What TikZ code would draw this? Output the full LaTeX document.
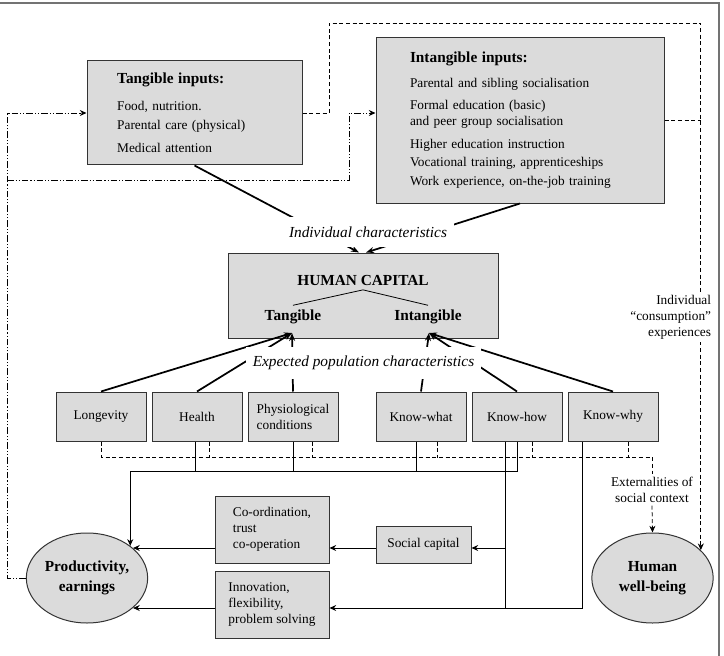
\documentclass[tikz,border=0pt]{standalone}
\usepackage{fontspec}
\setmainfont{Liberation Serif}
\usetikzlibrary{arrows.meta,positioning,shapes.geometric}

\definecolor{boxgray}{gray}{0.86}
\definecolor{framegray}{gray}{0.45}

\tikzset{
  inbox/.style={draw=black!80, fill=boxgray, line width=0.75pt, align=left,
    font=\fontsize{10}{12}\selectfont},
  smallbox/.style={draw=black!80, fill=boxgray, line width=0.75pt,
    minimum width=67.5pt, minimum height=36.75pt, font=\fontsize{10}{12}\selectfont},
  capbox/.style={draw=black!80, fill=boxgray, line width=0.75pt,
    minimum width=202.5pt, minimum height=63.75pt},
  captext/.style={font=\bfseries\fontsize{11.5}{14}\selectfont},
  outcome/.style={ellipse, draw=black!80, fill=boxgray, line width=0.75pt,
    inner sep=0pt, minimum width=91pt, minimum height=67.5pt, align=center,
    font=\bfseries\fontsize{11.5}{15.5}\selectfont},
  flowlabel/.style={fill=white, inner xsep=5pt, inner ysep=7pt,
    font=\itshape\fontsize{11.5}{14}\selectfont},
  note/.style={fill=white, inner sep=2pt, font=\fontsize{10}{12}\selectfont},
  heavy/.style={line width=1.3pt, -{Stealth[length=6pt,width=4.5pt]}},
  link/.style={line width=0.6pt},
  feed/.style={line width=0.6pt, dash pattern=on 3pt off 2pt},
  back/.style={line width=0.6pt,
    dash pattern=on 5pt off 1.5pt on 0.8pt off 1.5pt on 0.8pt off 1.5pt},
  tip/.style={-{Stealth[length=5pt,width=4.5pt]}}
}

\begin{document}
\begin{tikzpicture}[x=0.75pt,y=-0.75pt]
  \useasboundingbox (0,0) rectangle (724,656);
  \draw[framegray, line width=1pt] (0,3) -- (719,3) -- (719,656);

  % inputs
  \node[inbox, minimum width=161.25pt, minimum height=78pt, text width=116pt,
    inner xsep=22.5pt] (tin) at (194.5,113) {%
    {\bfseries\fontsize{11.5}{12}\selectfont Tangible inputs:}\\[8pt]
    Food, nutrition.\\[2.25pt]
    Parental care (physical)\\[5.25pt]
    Medical attention};
  \node[inbox, minimum width=216pt, minimum height=123.75pt, text width=165pt,
    inner xsep=25.5pt] (iin) at (520,120.5) {%
    {\bfseries\fontsize{11.5}{12}\selectfont Intangible inputs:}\\[6.75pt]
    Parental and sibling socialisation\\[4.5pt]
    Formal education (basic)\\
    and peer group socialisation\\[5.25pt]
    Higher education instruction\\[1.5pt]
    Vocational training, apprenticeships\\[2.25pt]
    Work experience, on-the-job training};

  % human capital
  \node[capbox] (hc) at (363,295.5) {};
  \node[captext] (hct) at (363,280) {HUMAN CAPITAL};
  \node[captext] (tg) at (293,317) {Tangible};
  \node[captext] (itg) at (428,317) {Intangible};
  \draw[link] (tg.north) -- (hct.south) -- (itg.north);
  \coordinate (tgtip) at (292,333);
  \coordinate (itgtip) at (429,333);

  \draw[heavy] (tin.south) -- ([xshift=-3pt]hc.north);
  \draw[heavy] (iin.south) -- ([xshift=2.25pt]hc.north);
  \node[flowlabel] (ich) at (368,232) {Individual characteristics};

  % population characteristics
  \node[smallbox] (lon) at (101,416.5) {Longevity};
  \node[smallbox, right=3.75pt of lon] (hea) {Health};
  \node[smallbox, right=3.75pt of hea, align=left] (phy) {Physiological\\conditions};
  \node[smallbox] (kwt) at (421,416.5) {Know-what};
  \node[smallbox, right=3.75pt of kwt] (kho) {Know-how};
  \node[smallbox, right=3.75pt of kho] (kwy) {Know-why};

  \foreach \b in {lon,hea,phy}
    \draw[heavy] (\b.north) -- (tgtip);
  \foreach \b in {kwt,kho,kwy}
    \draw[heavy] (\b.north) -- (itgtip);
  \node[flowlabel] (epc) at (363.5,363) {Expected population characteristics};

  % outcomes
  \node[outcome] (prod) at (87,578) {Productivity,\\earnings};
  \node[outcome] (hw) at (652.5,578) {Human\\well-being};
  \node[smallbox, minimum width=85.5pt, minimum height=50.25pt, align=left]
    (co) at (272,529.5) {Co-ordination,\\trust\\co-operation};
  \node[smallbox, minimum width=85.5pt, minimum height=50.25pt, align=left]
    (inn) at (272,604.5) {Innovation,\\flexibility,\\problem solving};
  \node[smallbox, minimum width=71.25pt, minimum height=27.75pt]
    (sc) at (423.5,544.5) {Social capital};
  \node[note, align=center] (ext) at (652,490) {Externalities of\\social context};

  % feedback loops
  \draw[back, tip] (prod.west) -| (7,113) -- (tin.west);
  \draw[back, tip] (7,180) -| (349,113) -- (tin.west -| iin.west);
  \draw[feed, tip] (tin.east) -| (329,23) -| (hw.30);
  \draw[feed] (iin.east) -- (iin.east -| hw.30);
  \node[note, align=right, anchor=east] (ice) at (714,317)
    {Individual\\“consumption”\\experiences};

  % externalities
  \draw[feed] (lon.south) |- (ext.north |- 0,457) -- (ext.north);
  \foreach \b/\dx in {hea/12.5,phy/19.5,kwt/16,kho/15,kwy/15}
    \draw[feed] (\b.south) ++(\dx,0) -- ++(0,16);
  \draw[feed, tip] (ext.south) -- (hw.north);

  % productivity links
  \coordinate (r1) at (0,548);
  \coordinate (r2) at (0,608);
  \draw[link, tip] (kho.south) -- ++(0,30) -| (prod.north east);
  \foreach \b/\dx in {hea/-1.5,phy/0,kwt/-5}
    \draw[link] (\b.south) ++(\dx,0) -- ++(0,30);
  \draw[link] (kho.south) ++(-12,0) -- ++(0,167);
  \draw[link, tip] (kwy.south) ++(-31,0) |- (inn.east |- r2);
  \draw[link, tip] ([xshift=-9pt]kho.south |- r1) -- (sc.east |- r1);
  \draw[link, tip] (sc.west |- r1) -- (co.east |- r1);
  \draw[link, tip] (co.west |- r1) -- (r1 -| prod.33);
  \draw[link, tip] (inn.west |- r2) -- (r2 -| prod.-33);
\end{tikzpicture}
\end{document}
